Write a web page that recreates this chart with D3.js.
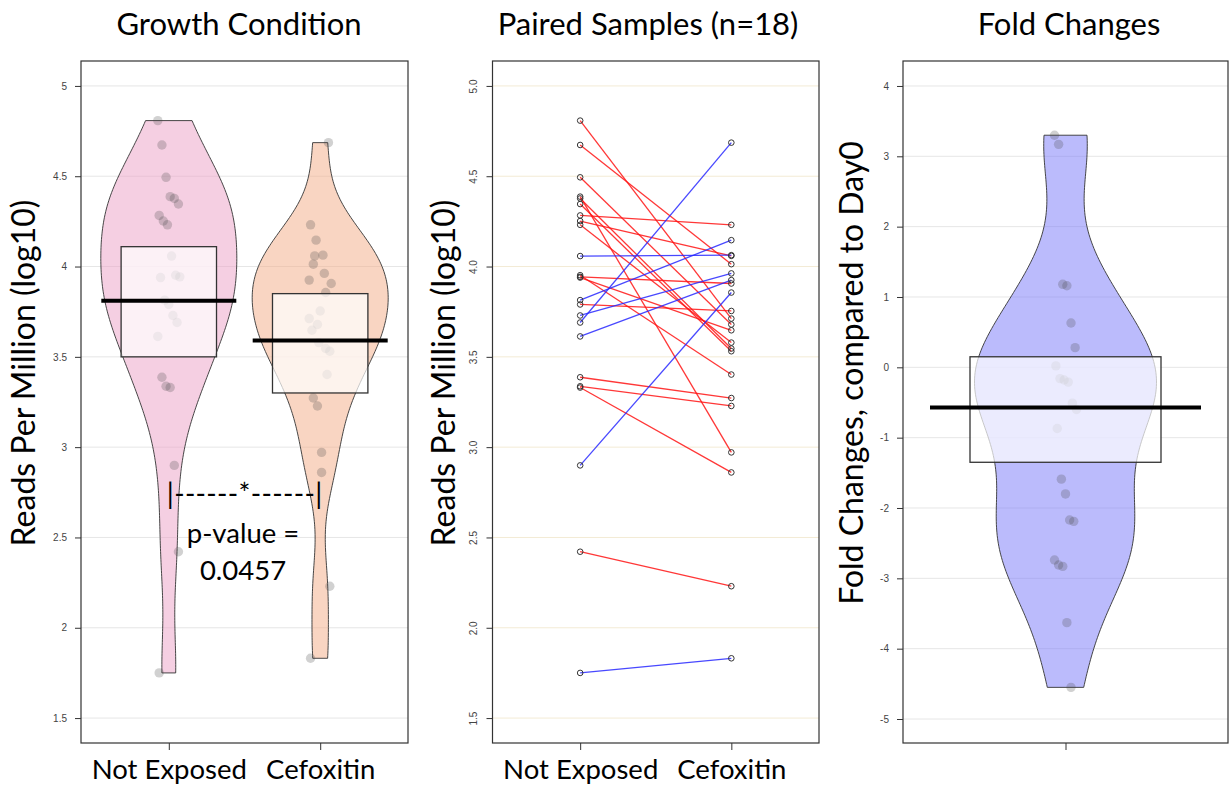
<!DOCTYPE html>
<html>
<head>
<meta charset="utf-8">
<script src="https://cdn.jsdelivr.net/npm/d3@7"></script>
<style>
  body { margin: 0; background: #fff; }
  text { font-family: Lato, "Open Sans", sans-serif; }
</style>
</head>
<body>
<div id="chart"></div>
<script>
// ---- data ----
const groups = ["Not Exposed", "Cefoxitin"];

// log10 reads per million, paired by index
const notExposed = [4.808, 4.673, 4.494, 4.387, 4.377, 4.346, 4.283, 4.252, 4.231, 4.058,
    3.952, 3.943, 3.939, 3.814, 3.790, 3.729, 3.690, 3.613, 3.387, 3.337, 3.330, 2.899, 2.421, 1.750];
const cefoxitin = [3.712, 4.013, 3.679, 2.971, 3.546, 3.531, 4.231, 4.059, 3.579, 4.063,
    3.402, 3.906, 3.647, 4.146, 3.754, 3.962, 4.686, 3.925, 3.272, 3.228, 2.860, 3.856, 2.230, 1.831];

const foldChanges = [3.30, 3.17, 1.18, 1.16, 0.63, 0.28, 0.02, -0.16, -0.18, -0.21, -0.51,
    -0.60, -0.87, -1.59, -1.80, -2.17, -2.19, -2.74, -2.81, -2.83, -3.63, -4.55];

// mean line and 95% interval box
const groupMeans = [3.81, 3.59];
const groupLow = [3.50, 3.30];
const groupHigh = [4.11, 3.85];
const foldMean = -0.57;
const foldLow = -1.35;
const foldHigh = 0.15;

const readTicks = [1.5, 2, 2.5, 3, 3.5, 4, 4.5, 5];
const foldTicks = [-5, -4, -3, -2, -1, 0, 1, 2, 3, 4];
const pValueText = "0.0457";

// ---- layout ----
const WIDTH = 1230, HEIGHT = 785;
const TOP = 61, BOTTOM = 743;

const svg = d3.select("#chart")
    .append("svg")
    .attr("width", WIDTH)
    .attr("height", HEIGHT)

const yReads = d3.scaleLinear().domain([1.362, 5.138]).range([BOTTOM, TOP]);
const yFold = d3.scaleLinear().domain([-5.341, 4.355]).range([BOTTOM, TOP]);

const x1 = d3.scalePoint().domain(groups).range([81, 408]).padding(0.58);
const x2 = d3.scalePoint().domain(groups).range([492.5, 819]).padding(0.58);
const x3 = d3.scalePoint().domain(["fold"]).range([903, 1228]).padding(0.5);

const pinkFill = "rgb(236,159,198)";
const peachFill = "rgb(244,172,134)";
const blueFill = "rgb(120,120,250)";

// gaussian kde with R's default bandwidth (times adjust), cut at data range
function kde(values, adjust) {
    const s = values.slice().sort(d3.ascending);
    const n = s.length;
    const iqr = d3.quantile(s, 0.75) - d3.quantile(s, 0.25);
    const bw = adjust * 0.9 * Math.min(d3.deviation(s), iqr / 1.34) * Math.pow(n, -0.2);
    const lo = s[0], hi = s[n - 1];
    const steps = 200;
    const out = [];
    for (let i = 0; i <= steps; i++) {
        const v = lo + (hi - lo) * i / steps;
        let d = 0;
        for (const x of s) d += Math.exp(-0.5 * ((v - x) / bw) ** 2);
        out.push([v, d]);
    }
    return out;
}

// deterministic small horizontal jitter
function jitter(i, amount) {
    return (((i * 37) % 17) / 16 - 0.5) * 2 * amount;
}

function drawFrame(g, x0, x1_) {
    g.append("rect")
        .attr("x", x0).attr("y", TOP)
        .attr("width", x1_ - x0).attr("height", BOTTOM - TOP)
        .attr("fill", "none")
        .attr("stroke", "#333")
        .attr("stroke-width", 1.2);
}

function gridLines(g, ticks, y, x0, x1_, color) {
    g.selectAll(".grid")
        .data(ticks)
        .join("line")
        .attr("class", "grid")
        .attr("x1", x0).attr("x2", x1_)
        .attr("y1", d => y(d)).attr("y2", d => y(d))
        .style("stroke", color)
        .style("stroke-width", 1);
}

function styleAxis(ax) {
    ax.select(".domain").remove();
    ax.selectAll(".tick line").attr("stroke", "#333");
    ax.selectAll(".tick text")
        .style("font-family", "'Liberation Sans', Arial, sans-serif")
        .style("font-size", "10px")
        .attr("fill", "#444");
}

function violin(g, values, cx, y, halfWidth, fill, adjust) {
    const dens = kde(values, adjust);
    const w = d3.scaleLinear().domain([0, d3.max(dens, d => d[1])]).range([0, halfWidth]);
    g.append("path")
        .datum(dens)
        .attr("d", d3.area()
            .x0(d => cx - w(d[1]))
            .x1(d => cx + w(d[1]))
            .y(d => y(d[0])))
        .attr("fill", fill)
        .attr("fill-opacity", 0.5)
        .attr("stroke", "#333")
        .attr("stroke-width", 0.9);
}

function jitterPoints(g, values, cx, y, amount) {
    g.append("g")
        .selectAll("circle")
        .data(values)
        .join("circle")
        .attr("cx", (d, i) => cx + jitter(i, amount))
        .attr("cy", d => y(d))
        .attr("r", 4.7)
        .style("fill", "rgb(70,70,70)")
        .style("fill-opacity", 0.25);
}

function meanBox(g, cx, y, mean, lo, hi, boxHalf, lineHalf) {
    g.append("rect")
        .attr("x", cx - boxHalf).attr("width", boxHalf * 2)
        .attr("y", y(hi)).attr("height", y(lo) - y(hi))
        .attr("fill", "white")
        .attr("fill-opacity", 0.7)
        .attr("stroke", "#333")
        .attr("stroke-width", 1.3);
    g.append("line")
        .attr("x1", cx - lineHalf).attr("x2", cx + lineHalf)
        .attr("y1", y(mean)).attr("y2", y(mean))
        .style("stroke", "black")
        .style("stroke-width", 4);
}

function title(text, x) {
    svg.append("text")
        .attr("x", x).attr("y", 35)
        .attr("text-anchor", "middle")
        .attr("font-size", 31)
        .text(text);
}

function yTitle(text, x) {
    svg.append("text")
        .attr("transform", `translate(${x},373) rotate(-90)`)
        .attr("text-anchor", "middle")
        .attr("font-size", 32)
        .text(text);
}

function categoryLabels(ax) {
    ax.select(".domain").remove();
    ax.selectAll(".tick line").attr("stroke", "#333");
    ax.selectAll(".tick text")
        .style("font-family", "Lato, sans-serif")
        .style("font-size", "27.5px")
        .attr("fill", "#000");
}

// ---- panel 1: growth condition ----
const p1 = svg.append("g");
gridLines(p1, readTicks, yReads, 81, 408, "#e6e6e6");

const series = [notExposed, cefoxitin];
const fills = [pinkFill, peachFill];
groups.forEach((grp, k) => {
    const cx = x1(grp);
    violin(p1, series[k], cx, yReads, 68, fills[k], 1);
    jitterPoints(p1, series[k], cx, yReads, 11);
    meanBox(p1, cx, yReads, groupMeans[k], groupLow[k], groupHigh[k], 47.7, 67.5);
});

const ax1 = p1.append("g")
    .attr("transform", "translate(81,0)")
    .call(d3.axisLeft(yReads).tickValues(readTicks).tickSize(6).tickPadding(8).tickFormat(d => String(d)));
styleAxis(ax1);

const bx1 = p1.append("g")
    .attr("transform", `translate(0,${BOTTOM})`)
    .call(d3.axisBottom(x1).tickSize(7).tickPadding(9));
categoryLabels(bx1);

drawFrame(p1, 81, 408);

// significance bracket
p1.append("text")
    .attr("x", (x1(groups[0]) + x1(groups[1])) / 2)
    .attr("y", 504)
    .attr("text-anchor", "middle")
    .attr("font-size", 28)
    .attr("textLength", x1(groups[1]) - x1(groups[0]) + 4)
    .attr("lengthAdjust", "spacing")
    .text("|------*------|");
p1.append("text")
    .attr("x", 243).attr("y", 543)
    .attr("text-anchor", "middle")
    .attr("font-size", 27.5)
    .text("p-value =");
p1.append("text")
    .attr("x", 243).attr("y", 580)
    .attr("text-anchor", "middle")
    .attr("font-size", 27.5)
    .text(pValueText);

// ---- panel 2: paired samples ----
const p2 = svg.append("g");
gridLines(p2, readTicks, yReads, 492.5, 819, "#f3ebd5");

const pairs = notExposed.map((v, i) => ({ a: v, b: cefoxitin[i] }));
p2.selectAll(".pair")
    .data(pairs)
    .join("line")
    .attr("class", "pair")
    .attr("x1", x2(groups[0]))
    .attr("x2", x2(groups[1]))
    .attr("y1", d => yReads(d.a))
    .attr("y2", d => yReads(d.b))
    .style("stroke", d => d.b > d.a ? "rgb(40,40,255)" : "rgb(255,20,20)")
    .style("stroke-opacity", 0.85)
    .style("stroke-width", 1.3);

[notExposed, cefoxitin].forEach((vals, k) => {
    p2.append("g")
        .selectAll("circle")
        .data(vals)
        .join("circle")
        .attr("cx", x2(groups[k]))
        .attr("cy", d => yReads(d))
        .attr("r", 2.8)
        .style("fill", "none")
        .style("stroke", "#333")
        .style("stroke-width", 1);
});

const ax2 = p2.append("g")
    .attr("transform", "translate(492.5,0)")
    .call(d3.axisLeft(yReads).tickValues(readTicks).tickSize(6).tickFormat(d3.format(".1f")));
styleAxis(ax2);
ax2.selectAll(".tick text")
    .attr("transform", "rotate(-90)")
    .attr("x", 0)
    .attr("y", -16)
    .attr("dy", 0)
    .attr("text-anchor", "middle");

const bx2 = p2.append("g")
    .attr("transform", `translate(0,${BOTTOM})`)
    .call(d3.axisBottom(x2).tickSize(7).tickPadding(9));
categoryLabels(bx2);

drawFrame(p2, 492.5, 819);

// ---- panel 3: fold changes ----
const p3 = svg.append("g");
gridLines(p3, foldTicks, yFold, 903, 1228, "#e6e6e6");
const cx3 = x3("fold");
violin(p3, foldChanges, cx3, yFold, 91, blueFill, 0.88);
jitterPoints(p3, foldChanges, cx3, yFold, 11);
meanBox(p3, cx3, yFold, foldMean, foldLow, foldHigh, 95.5, 135.5);

const ax3 = p3.append("g")
    .attr("transform", "translate(903,0)")
    .call(d3.axisLeft(yFold).tickValues(foldTicks).tickSize(6).tickPadding(8).tickFormat(d => String(d)));
styleAxis(ax3);

const bx3 = p3.append("g")
    .attr("transform", `translate(0,${BOTTOM})`)
    .call(d3.axisBottom(x3).tickSize(7).tickFormat(""));
bx3.select(".domain").remove();
bx3.selectAll(".tick line").attr("stroke", "#333");

drawFrame(p3, 903, 1228);

// ---- titles ----
title("Growth Condition", 239);
title("Paired Samples (n=18)", 648);
title("Fold Changes", 1069);
yTitle("Reads Per Million (log10)", 35);
yTitle("Reads Per Million (log10)", 455);
yTitle("Fold Changes, compared to Day0", 863);
</script>
</body>
</html>
